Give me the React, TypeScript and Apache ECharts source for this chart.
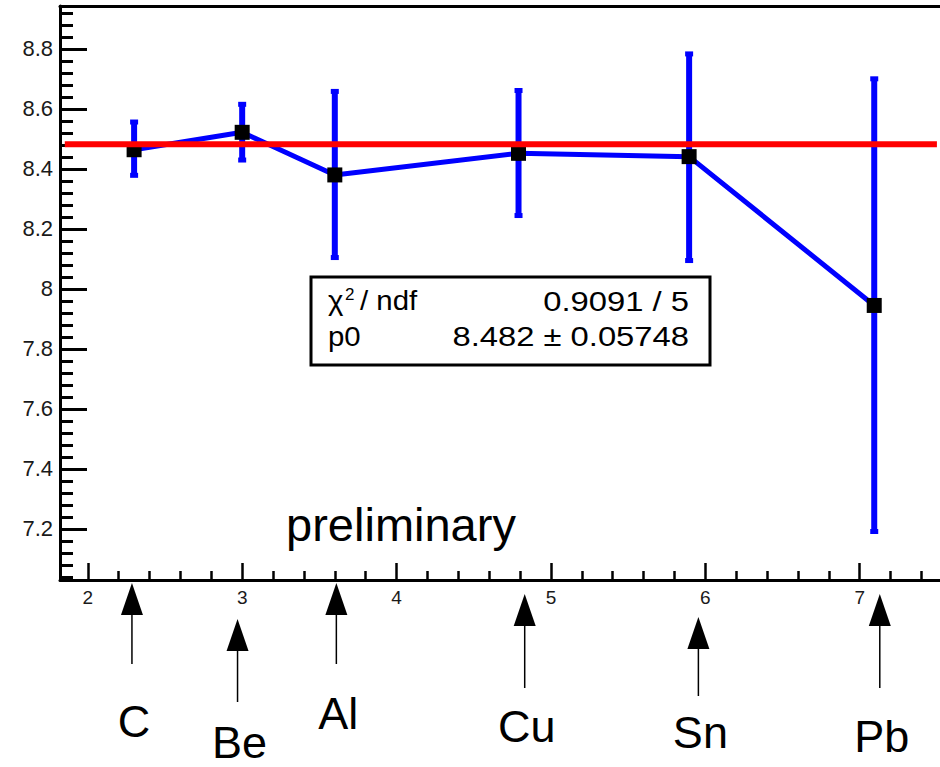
import React, { useEffect, useRef } from "react";
import * as echarts from "echarts";

// ---- data ----
const targets = ["C", "Be", "Al", "Cu", "Sn", "Pb"];
const pointX = [2.3, 3.0, 3.6, 4.79, 5.895, 7.094];
const pointY = [8.464, 8.522, 8.38, 8.452, 8.441, 7.945];
const errLow = [8.377, 8.428, 8.103, 8.243, 8.093, 7.19];
const errHigh = [8.558, 8.617, 8.66, 8.663, 8.785, 8.702];
const fitValue = 8.482;
const fitRange = [1.851, 7.5];
const arrowX = [2.286, 2.97, 3.61, 4.83, 5.955, 7.13];

const xRange = [1.82, 7.52];
const yRange = [7.03, 8.943];
const xTickLabels = [2, 3, 4, 5, 6, 7];
const yTickLabels = [7.2, 7.4, 7.6, 7.8, 8.0, 8.2, 8.4, 8.6, 8.8];

const statLabels = ["χ", "2", "/ ndf", "p0"];
const statValues = ["0.9091 / 5", "8.482 ± 0.05748"];
const watermark = "preliminary";

// ---- layout (pixels) ----
const arrowTip = [3, 39, 3, 14, 37, 14];
const arrowTail = [84, 122, 84, 108, 116, 108];
const labelMid = [141, 162, 133, 146, 152, 156];

function minorTicks(lo: number, hi: number, step: number, majorStep: number) {
  const out: number[] = [];
  const start = Math.ceil(lo / step - 1e-9);
  const end = Math.floor(hi / step + 1e-9);
  for (let i = start; i <= end; i++) {
    const v = Math.round(i * step * 1000) / 1000;
    const r = v / majorStep;
    if (Math.abs(r - Math.round(r)) > 1e-6) out.push(v);
  }
  return out;
}

const FONT = "'Liberation Sans', Arial, Helvetica, sans-serif";

export default function App() {
  const ref = useRef<HTMLDivElement>(null);
  useEffect(() => {
    if (!ref.current) return;
    const chart = echarts.init(ref.current, undefined, { renderer: "svg" });
    const xMinor = minorTicks(xRange[0], xRange[1], 0.2, 1);
    const yMinor = minorTicks(yRange[0], yRange[1], 0.04, 0.2);
    const fmt = (v: number) => String(Math.round(v * 10) / 10);

    const baseX = {
      type: "value",
      min: xRange[0],
      max: xRange[1],
      splitLine: { show: false },
    };
    const baseY = {
      type: "value",
      min: yRange[0],
      max: yRange[1],
      splitLine: { show: false },
    };

    const statText = (
      text: string,
      x: number,
      y: number,
      size: number,
      align = "left",
      sx = 1
    ) => ({
      type: "text",
      z: 11,
      x,
      y,
      scaleX: sx,
      style: {
        text,
        font: `${size}px ${FONT}`,
        fill: "#000",
        textAlign: align,
        textVerticalAlign: "middle",
      },
    });

    const option: any = {
      animation: false,
      grid: { left: 60, top: 6, right: 0, bottom: 187, containLabel: false },
      xAxis: [
        {
          ...baseX,
          position: "bottom",
          axisLine: { show: true, onZero: false, lineStyle: { color: "#000", width: 3 } },
          axisTick: {
            show: true,
            inside: true,
            length: 17,
            customValues: xTickLabels,
            lineStyle: { color: "#000", width: 2.5 },
          },
          axisLabel: {
            show: true,
            customValues: xTickLabels,
            formatter: (v: number) => `{t|${fmt(v)}}`,
            rich: { t: { fontSize: 19, fontFamily: FONT, color: "#1a1a1a" } },
            fontSize: 19,
            fontFamily: FONT,
            color: "#1a1a1a",
            margin: 8,
          },
        },
        {
          ...baseX,
          position: "bottom",
          axisLine: { show: false },
          axisTick: {
            show: true,
            inside: true,
            length: 9,
            customValues: xMinor,
            lineStyle: { color: "#000", width: 2.5 },
          },
          axisLabel: { show: false },
        },
        {
          ...baseX,
          position: "top",
          axisLine: { show: true, onZero: false, lineStyle: { color: "#000", width: 3 } },
          axisTick: { show: false },
          axisLabel: { show: false },
        },
      ],
      yAxis: [
        {
          ...baseY,
          position: "left",
          axisLine: { show: true, onZero: false, lineStyle: { color: "#000", width: 3 } },
          axisTick: {
            show: true,
            inside: true,
            length: 27,
            customValues: yTickLabels,
            lineStyle: { color: "#000", width: 3 },
          },
          axisLabel: {
            show: true,
            customValues: yTickLabels,
            formatter: (v: number) => `{t|${fmt(v)}}`,
            rich: { t: { fontSize: 22, fontFamily: FONT, color: "#1a1a1a" } },
            fontSize: 22,
            fontFamily: FONT,
            color: "#1a1a1a",
            margin: 7,
          },
        },
        {
          ...baseY,
          position: "left",
          axisLine: { show: false },
          axisTick: {
            show: true,
            inside: true,
            length: 13,
            customValues: yMinor,
            lineStyle: { color: "#000", width: 3 },
          },
          axisLabel: { show: false },
        },
      ],
      series: [
        {
          type: "custom",
          name: "errors",
          z: 2,
          encode: { x: 0, y: [1, 2] },
          data: pointX.map((x, i) => [x, errLow[i], errHigh[i]]),
          renderItem: (params: any, api: any) => {
            const x = api.value(0);
            const lo = api.coord([x, api.value(1)]);
            const hi = api.coord([x, api.value(2)]);
            const blue = "#0000ff";
            return {
              type: "group",
              children: [
                {
                  type: "line",
                  shape: { x1: lo[0], y1: lo[1], x2: hi[0], y2: hi[1] },
                  style: { stroke: blue, lineWidth: 6 },
                },
                {
                  type: "rect",
                  shape: { x: hi[0] - 4, y: hi[1] - 2, width: 8, height: 5 },
                  style: { fill: blue },
                },
                {
                  type: "rect",
                  shape: { x: lo[0] - 4, y: lo[1] - 3, width: 8, height: 5 },
                  style: { fill: blue },
                },
              ],
            };
          },
        },
        {
          type: "line",
          name: "ratio",
          z: 3,
          data: pointX.map((x, i) => [x, pointY[i]]),
          lineStyle: { color: "#0000ff", width: 5 },
          symbol: "rect",
          symbolSize: 15,
          itemStyle: { color: "#000" },
          emphasis: { disabled: true },
        },
        {
          type: "line",
          name: "fit",
          z: 4,
          data: [
            [fitRange[0], fitValue],
            [fitRange[1], fitValue],
          ],
          symbol: "none",
          lineStyle: { color: "#ff0000", width: 6 },
          emphasis: { disabled: true },
        },
        {
          type: "custom",
          name: "arrows",
          z: 5,
          clip: false,
          data: arrowX.map((x) => [x, yRange[0]]),
          renderItem: (params: any, api: any) => {
            const i = params.dataIndex;
            const p = api.coord([api.value(0), api.value(1)]);
            const px = p[0];
            const base = p[1];
            const tip = base + arrowTip[i];
            const headEnd = tip + 32;
            return {
              type: "group",
              children: [
                {
                  type: "polygon",
                  shape: {
                    points: [
                      [px, tip],
                      [px - 11, headEnd],
                      [px + 11, headEnd],
                    ],
                  },
                  style: { fill: "#000" },
                },
                {
                  type: "line",
                  shape: { x1: px, y1: headEnd, x2: px, y2: base + arrowTail[i] },
                  style: { stroke: "#000", lineWidth: 1.5 },
                },
                {
                  type: "text",
                  x: px + 2,
                  y: base + labelMid[i],
                  style: {
                    text: targets[i],
                    font: `45px ${FONT}`,
                    fill: "#000",
                    textAlign: "center",
                    textVerticalAlign: "middle",
                  },
                },
              ],
            };
          },
        },
      ],
      graphic: [
        {
          type: "rect",
          z: 10,
          shape: { x: 311, y: 277, width: 399, height: 88 },
          style: { fill: "#fff", stroke: "#000", lineWidth: 3 },
        },
        statText(statLabels[0], 328, 300, 28, "left", 1.05),
        statText(statLabels[1], 345, 294, 17),
        statText(statLabels[2], 360, 300, 28, "left", 1.05),
        statText(statLabels[3], 328, 336, 28, "left", 1.05),
        statText(statValues[0], 689, 301, 28, "right", 1.17),
        statText(statValues[1], 689, 336, 28, "right", 1.17),
        {
          type: "text",
          z: 11,
          x: 401,
          y: 524,
          style: {
            text: watermark,
            font: `47px ${FONT}`,
            fill: "#000",
            textAlign: "center",
            textVerticalAlign: "middle",
          },
        },
      ],
    };
    chart.setOption(option);
    return () => chart.dispose();
  }, []);
  return (
    <div
      ref={ref}
      style={{ position: "fixed", left: 0, top: 0, width: 940, height: 767, background: "#fff" }}
    />
  );
}
